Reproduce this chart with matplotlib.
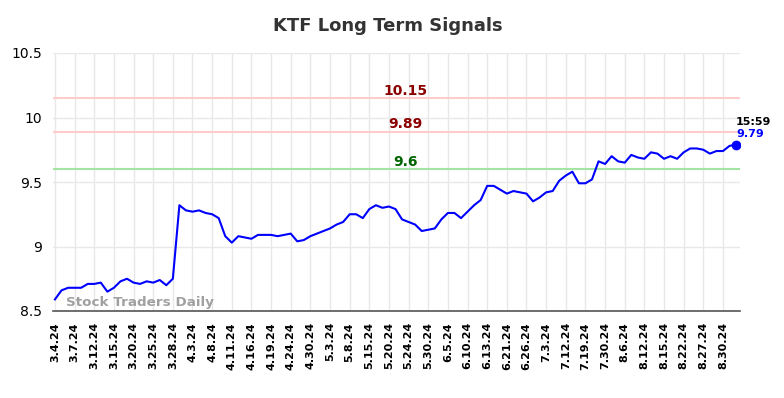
import matplotlib
matplotlib.use("Agg")
import matplotlib.pyplot as plt
import numpy as np

# closing prices (3 sessions per x tick)
prices = [
    8.59, 8.66, 8.68, 8.68, 8.68, 8.71, 8.71, 8.72, 8.65, 8.68,
    8.73, 8.75, 8.72, 8.71, 8.73, 8.72, 8.74, 8.70, 8.75, 9.32,
    9.28, 9.27, 9.28, 9.26, 9.25, 9.22, 9.08, 9.03, 9.08, 9.07,
    9.06, 9.09, 9.09, 9.09, 9.08, 9.09, 9.10, 9.04, 9.05, 9.08,
    9.10, 9.12, 9.14, 9.17, 9.19, 9.25, 9.25, 9.22, 9.29, 9.32,
    9.30, 9.31, 9.29, 9.21, 9.19, 9.17, 9.12, 9.13, 9.14, 9.21,
    9.26, 9.26, 9.22, 9.27, 9.32, 9.36, 9.47, 9.47, 9.44, 9.41,
    9.43, 9.42, 9.41, 9.35, 9.38, 9.42, 9.43, 9.51, 9.55, 9.58,
    9.49, 9.49, 9.52, 9.66, 9.64, 9.70, 9.66, 9.65, 9.71, 9.69,
    9.68, 9.73, 9.72, 9.68, 9.70, 9.68, 9.73, 9.76, 9.76, 9.75,
    9.72, 9.74, 9.74, 9.78, 9.79,
]

tick_labels = [
    "3.4.24", "3.7.24", "3.12.24", "3.15.24", "3.20.24", "3.25.24", "3.28.24",
    "4.3.24", "4.8.24", "4.11.24", "4.16.24", "4.19.24", "4.24.24", "4.30.24",
    "5.3.24", "5.8.24", "5.15.24", "5.20.24", "5.24.24", "5.30.24", "6.5.24",
    "6.10.24", "6.13.24", "6.21.24", "6.26.24", "7.3.24", "7.12.24", "7.19.24",
    "7.30.24", "8.6.24", "8.12.24", "8.15.24", "8.22.24", "8.27.24", "8.30.24",
]

signal_levels = [10.15, 9.89, 9.6]
signal_lines = ["#ffcccc", "#ffcccc", "#a3e6a3"]
signal_text = ["#8b0000", "#8b0000", "#006400"]

last_time = "15:59"

x = np.arange(len(prices))
tick_pos = np.arange(len(tick_labels)) * 3

fig = plt.figure(figsize=(7.84, 3.98), dpi=100)
ax = fig.add_axes([53 / 784, 87 / 398, 687 / 784, 258 / 398])

for lvl, lc, tc in zip(signal_levels, signal_lines, signal_text):
    ax.axhline(lvl, color=lc, linewidth=1.5, zorder=1)
    ax.text(53.5, lvl + 0.004, f"{lvl:g}", color=tc, fontsize=10, fontweight="bold",
            ha="center", va="bottom", zorder=3)

ax.plot(x, prices, color="#0000ff", linewidth=1.5, zorder=2)
ax.scatter([x[-1]], [prices[-1]], s=36, color="#0000ff", zorder=4)

ax.text(x[-1], prices[-1] + 0.04, f"{prices[-1]:g}", color="#0000ff",
        fontsize=8, fontweight="bold", ha="left", va="bottom")
ax.text(x[-1], prices[-1] + 0.14, last_time, color="black",
        fontsize=8, fontweight="bold", ha="left", va="bottom", clip_on=False)

ax.text(1.7, 8.515, "Stock Traders Daily", color="#a0a0a0", fontsize=9.7,
        fontweight="bold", ha="left", va="bottom")

ax.set_xlim(-0.3, len(prices) - 0.4)
ax.set_ylim(8.5, 10.5)
ax.set_yticks([8.5, 9, 9.5, 10, 10.5])
ax.set_yticklabels(["8.5", "9", "9.5", "10", "10.5"], fontsize=10)
ax.set_xticks(tick_pos)
ax.set_xticklabels(tick_labels, rotation=90, fontsize=8, fontweight="bold")
ax.tick_params(length=0, pad=8)

ax.grid(True, color="#e8e8e8", linewidth=1)
ax.set_axisbelow(True)
for side in ["top", "right", "left"]:
    ax.spines[side].set_visible(False)
ax.spines["bottom"].set_color("#555555")
ax.spines["bottom"].set_linewidth(1.2)

fig.text(388 / 784, 1 - 26 / 398, "KTF Long Term Signals", fontsize=13,
         fontweight="bold", color="#333333", ha="center", va="center")

fig.savefig("out.png", dpi=100)
